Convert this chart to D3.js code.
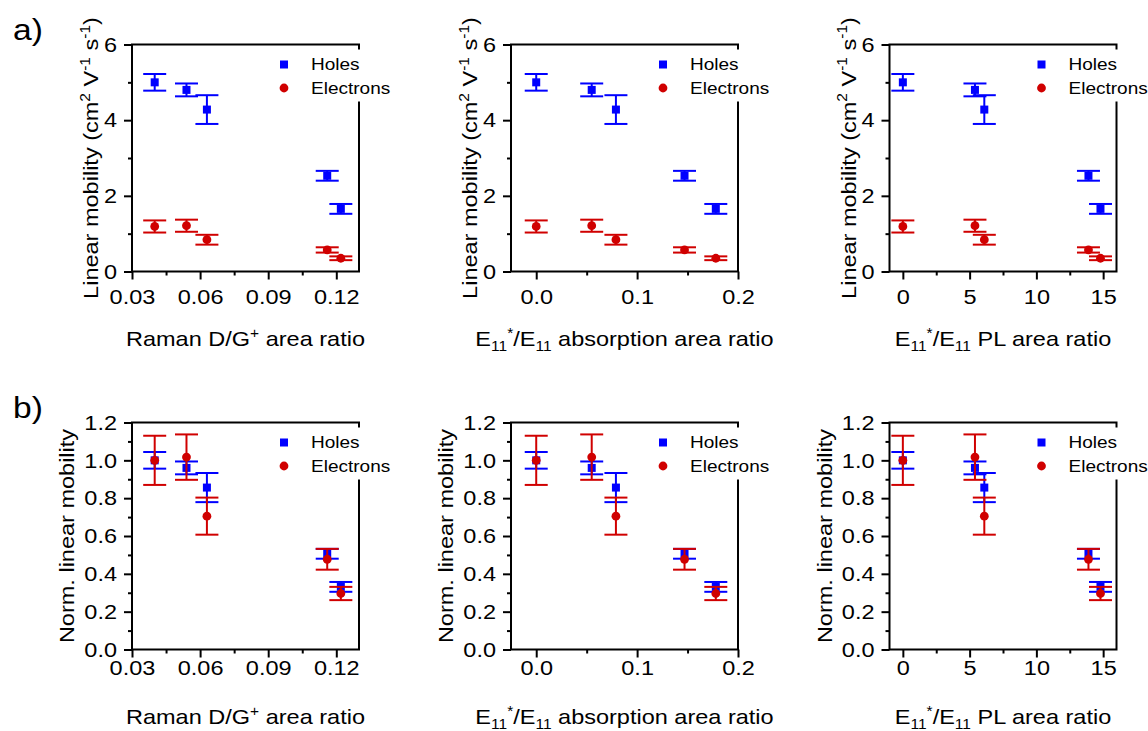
<!DOCTYPE html>
<html>
<head>
<meta charset="utf-8">
<script src="https://cdn.jsdelivr.net/npm/d3@7"></script>
<style>
  body { margin: 0; background: #fff; }
  svg { font-family: "Liberation Sans", Arial, sans-serif; }
  text { white-space: pre; }
</style>
</head>
<body>
<script>
// x values of the five samples, one list per metric
const ramanRatio = [0.040, 0.054, 0.063, 0.116, 0.122]
const absRatio = [0.0, 0.055, 0.079, 0.147, 0.178]
const plRatio = [0, 5.4, 6.1, 13.9, 14.8]

// linear mobility (cm2 V-1 s-1)
const holes = [5.0, 4.8, 4.28, 2.53, 1.655]
const holesErr = [0.22, 0.17, 0.38, 0.13, 0.13]
const electrons = [1.19, 1.21, 0.84, 0.57, 0.35]
const electronsErr = [0.16, 0.16, 0.13, 0.07, 0.05]

// normalized linear mobility
const holesNorm = [1.0, 0.96, 0.856, 0.506, 0.331]
const holesNormErr = [0.044, 0.034, 0.077, 0.026, 0.026]
const electronsNorm = [1.0, 1.017, 0.705, 0.477, 0.296]
const electronsNormErr = [0.13, 0.12, 0.098, 0.055, 0.035]

// ticks
const ramanTicks = [0.03, 0.06, 0.09, 0.12]
const ramanMinor = [0.045, 0.075, 0.105]
const absTicks = [0.0, 0.1, 0.2]
const absMinor = [0.05, 0.15]
const plTicks = [0, 5, 10, 15]
const plMinor = [2.5, 7.5, 12.5]
const mobTicks = [0, 2, 4, 6]
const mobMinor = [1, 3, 5]
const normTicks = [0, 0.2, 0.4, 0.6, 0.8, 1.0, 1.2]
const normMinor = [0.1, 0.3, 0.5, 0.7, 0.9, 1.1]

const blue = '#0000ff'
const red = '#d00000'
const SX = 1.12   // the original text is drawn a bit wider than Arial

const svg = d3.select('body').append('svg')
  .attr('width', 1148)
  .attr('height', 731)

function rich(text, parts, size) {
  let shift = 0
  parts.forEach(p => {
    const target = p[1] === 'sup' ? -0.4 * size : p[1] === 'sub' ? 0.22 * size : 0
    text.append('tspan')
      .attr('dy', target - shift)
      .attr('font-size', p[1] ? size * 0.66 : size)
      .text(p[0])
    shift = target
  })
}

const xTitles = [
  [['Raman D/G'], ['+', 'sup'], [' area ratio']],
  [['E'], ['11', 'sub'], ['*', 'sup'], ['/E'], ['11', 'sub'], [' absorption area ratio']],
  [['E'], ['11', 'sub'], ['*', 'sup'], ['/E'], ['11', 'sub'], [' PL area ratio']]
]
const xSets = [
  { xs: ramanRatio, domain: [0.03, 0.13], ticks: ramanTicks, minor: ramanMinor, fmt: d3.format('.2f') },
  { xs: absRatio, domain: [-0.025, 0.2], ticks: absTicks, minor: absMinor, fmt: d3.format('.1f') },
  { xs: plRatio, domain: [-1, 16], ticks: plTicks, minor: plMinor, fmt: d3.format('d') }
]
const rows = [
  { top: 44.5, h: 227, domain: [0, 6], ticks: mobTicks, minor: mobMinor, fmt: d3.format('d'),
    h1: holes, h1e: holesErr, e1: electrons, e1e: electronsErr,
    title: [['Linear mobility (cm'], ['2', 'sup'], [' V'], ['-1', 'sup'], [' s'], ['-1', 'sup'], [')']],
    titleOff: 34, xLab: 33, xTitle: 74.5, label: 'a)', labelY: 39.5 },
  { top: 422.5, h: 227, domain: [0, 1.2], ticks: normTicks, minor: normMinor, fmt: d3.format('.1f'),
    h1: holesNorm, h1e: holesNormErr, e1: electronsNorm, e1e: electronsNormErr,
    title: [['Norm. linear mobility']],
    titleOff: 58, xLab: 26, xTitle: 74.5, label: 'b)', labelY: 418 }
]
const lefts = [132, 511, 889.5]
const w = 227

rows.forEach(row => {
  svg.append('text')
    .attr('transform', `translate(13,${row.labelY}) scale(${SX},1)`)
    .attr('font-size', 30)
    .text(row.label)

  xSets.forEach((xs, c) => {
    const left = lefts[c]
    const xScale = d3.scaleLinear().domain(xs.domain).range([left, left + w])
    const yScale = d3.scaleLinear().domain(row.domain).range([row.top + row.h, row.top])
    const g = svg.append('g')

    // minor ticks
    g.append('g')
      .attr('transform', `translate(0,${row.top + row.h})`)
      .call(d3.axisBottom(xScale).tickValues(xs.minor).tickSize(4).tickFormat(''))
    g.append('g')
      .attr('transform', `translate(${left},0)`)
      .call(d3.axisLeft(yScale).tickValues(row.minor).tickSize(4).tickFormat(''))

    const xAxis = g.append('g')
      .attr('transform', `translate(0,${row.top + row.h})`)
      .call(d3.axisBottom(xScale).tickValues(xs.ticks).tickSize(8).tickFormat(xs.fmt))
    xAxis.selectAll('text')
      .attr('y', row.xLab)
      .attr('dy', null)
      .attr('transform', `scale(${SX},1)`)

    const yAxis = g.append('g')
      .attr('transform', `translate(${left},0)`)
      .call(d3.axisLeft(yScale).tickValues(row.ticks).tickSize(8).tickFormat(row.fmt))
    yAxis.selectAll('text')
      .attr('x', -15 / SX)
      .attr('transform', `scale(${SX},1)`)

    g.selectAll('.domain').remove()
    g.selectAll('.tick line').attr('stroke', '#000').attr('stroke-width', 2)
    g.selectAll('.tick text').attr('font-size', 21).attr('font-family', null).attr('fill', '#000')

    g.append('rect')
      .attr('x', left)
      .attr('y', row.top)
      .attr('width', w)
      .attr('height', row.h)
      .attr('fill', 'none')
      .attr('stroke', '#000')
      .attr('stroke-width', 2)

    // data: holes then electrons
    const series = [
      { v: row.h1, e: row.h1e, color: blue, shape: 'square' },
      { v: row.e1, e: row.e1e, color: red, shape: 'circle' }
    ]
    series.forEach(s => {
      const pts = s.v.map((v, i) => ({ x: xs.xs[i], v: v, e: s.e[i] }))
      const eb = g.append('g').attr('stroke', s.color).attr('stroke-width', 2)
      eb.selectAll('line.v')
        .data(pts)
        .enter()
        .append('line')
        .attr('x1', d => xScale(d.x))
        .attr('x2', d => xScale(d.x))
        .attr('y1', d => yScale(d.v + d.e))
        .attr('y2', d => yScale(d.v - d.e))
      ;[1, -1].forEach(sign => {
        eb.selectAll(null)
          .data(pts)
          .enter()
          .append('line')
          .attr('x1', d => xScale(d.x) - 11.5)
          .attr('x2', d => xScale(d.x) + 11.5)
          .attr('y1', d => yScale(d.v + sign * d.e))
          .attr('y2', d => yScale(d.v + sign * d.e))
      })
      if (s.shape === 'square') {
        g.selectAll(null)
          .data(pts)
          .enter()
          .append('rect')
          .attr('x', d => xScale(d.x) - 4)
          .attr('y', d => yScale(d.v) - 4)
          .attr('width', 8)
          .attr('height', 8)
          .attr('fill', s.color)
      } else {
        g.selectAll(null)
          .data(pts)
          .enter()
          .append('circle')
          .attr('cx', d => xScale(d.x))
          .attr('cy', d => yScale(d.v))
          .attr('r', 4.4)
          .attr('fill', s.color)
      }
    })

    // legend
    const right = left + w
    g.append('rect')
      .attr('x', right - 88)
      .attr('y', row.top + 5)
      .attr('width', 120)
      .attr('height', 52)
      .attr('fill', '#fff')
    g.append('rect')
      .attr('x', right - 79)
      .attr('y', row.top + 16)
      .attr('width', 8)
      .attr('height', 8)
      .attr('fill', blue)
    g.append('circle')
      .attr('cx', right - 75)
      .attr('cy', row.top + 43.5)
      .attr('r', 4.4)
      .attr('fill', red)
    g.append('text')
      .attr('transform', `translate(${right - 48},${row.top + 25}) scale(${SX},1)`)
      .attr('font-size', 17)
      .text('Holes')
    g.append('text')
      .attr('transform', `translate(${right - 48},${row.top + 49}) scale(${SX},1)`)
      .attr('font-size', 17)
      .text('Electrons')

    // axis titles
    const xt = g.append('text')
      .attr('transform', `translate(${left + w / 2},${row.top + row.h + row.xTitle}) scale(${SX},1)`)
      .attr('text-anchor', 'middle')
    rich(xt, xTitles[c], 21)

    const yt = g.append('text')
      .attr('transform', `translate(${left - row.titleOff},${row.top + row.h / 2}) rotate(-90) scale(${SX},1)`)
      .attr('text-anchor', 'middle')
    rich(yt, row.title, 21)
  })
})
</script>
</body>
</html>
